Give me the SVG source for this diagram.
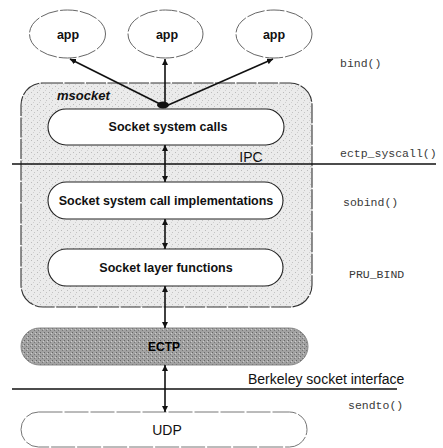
<svg xmlns="http://www.w3.org/2000/svg" width="443" height="448" viewBox="0 0 443 448">
<defs>
<style>
.bg{fill:#ffffff}
.app{fill:#ffffff;stroke:#555;stroke-width:0.9;stroke-dasharray:18 2}
.lbl{font-family:"Liberation Sans",Arial,sans-serif;fill:#111;text-anchor:middle}
.b{font-weight:bold;font-size:12.5px}
.r{font-size:14px}
.mono{font-family:"Liberation Mono","Courier New",monospace;font-size:11.5px;fill:#3a3a3a}
.pill{fill:#ffffff;stroke:#222;stroke-width:1.1}
.line{stroke:#111;stroke-width:1.5;fill:none}
.conn{stroke:#111;stroke-width:1.6;fill:none}
</style>
<pattern id="stip" width="6" height="6" patternUnits="userSpaceOnUse">
<rect width="6" height="6" fill="#ebebeb"/>
<rect x="1" y="2" width="1" height="1" fill="#bbb"/>
<rect x="4" y="4" width="1" height="1" fill="#c4c4c4"/>
<rect x="3" y="0" width="1" height="1" fill="#d0d0d0"/>
</pattern>
<pattern id="dark" width="4" height="4" patternUnits="userSpaceOnUse">
<rect width="4" height="4" fill="#a2a2a2"/>
<rect x="0" y="0" width="1" height="1" fill="#666"/>
<rect x="2" y="2" width="1" height="1" fill="#777"/>
<rect x="3" y="1" width="1" height="1" fill="#ccc"/>
</pattern>
<marker id="ah" viewBox="0 0 10 10" refX="10" refY="5" markerWidth="6" markerHeight="6" orient="auto-start-reverse" markerUnits="userSpaceOnUse">
<path d="M0,0 L10,5 L0,10 z" fill="#111"/>
</marker>
</defs>
<rect class="bg" x="0" y="0" width="443" height="448"/>

<g id="msocket">
<rect x="21" y="83" width="291" height="224" rx="22" ry="22" fill="url(#stip)" stroke="#333" stroke-width="1.1" stroke-dasharray="20 1.5"/>
<text x="57" y="100" style="font-family:'Liberation Sans',Arial,sans-serif;font-weight:bold;font-style:italic;font-size:13px;fill:#111">msocket</text>
</g>

<g id="app1">
<ellipse class="app" cx="67.5" cy="34" rx="38" ry="24"/>
<text class="lbl b" x="68" y="39">app</text>
</g>
<g id="app2">
<ellipse class="app" cx="165.5" cy="34" rx="37.5" ry="24"/>
<text class="lbl b" x="167" y="39">app</text>
</g>
<g id="app3">
<ellipse class="app" cx="274" cy="34" rx="38" ry="24"/>
<text class="lbl b" x="274" y="39">app</text>
</g>

<g id="syscalls">
<rect class="pill" x="48" y="109" width="236" height="36" rx="18" ry="18"/>
<text class="lbl b" x="168" y="131">Socket system calls</text>
</g>
<g id="impl">
<rect class="pill" x="48" y="182" width="235" height="37" rx="18.5" ry="18.5"/>
<text class="lbl b" x="166" y="205">Socket system call implementations</text>
</g>
<g id="layer">
<rect class="pill" x="48" y="249" width="235" height="37" rx="18.5" ry="18.5"/>
<text class="lbl b" x="166" y="272">Socket layer functions</text>
</g>
<g id="ectp">
<rect x="21" y="328" width="287" height="37" rx="18.5" ry="18.5" fill="url(#dark)" stroke="#888" stroke-width="1"/>
<text class="lbl" x="164" y="351" style="font-weight:bold;font-size:12px;fill:#000">ECTP</text>
</g>
<g id="udp">
<rect x="21" y="412" width="286" height="35" rx="17.5" ry="17.5" fill="#fff" stroke="#666" stroke-width="0.9" stroke-dasharray="24 2"/>
<text class="lbl r" x="167" y="435">UDP</text>
</g>

<g id="boundaries">
<line class="line" x1="12" y1="164" x2="436" y2="164"/>
<text class="lbl r" x="251" y="162">IPC</text>
<line class="line" x1="12" y1="389" x2="397" y2="389" style="stroke-width:1.3"/>
<text class="lbl r" x="248" y="384" style="text-anchor:start">Berkeley socket interface</text>
</g>

<g id="connectors">
<ellipse cx="163" cy="105" rx="6" ry="3.5" fill="#111"/>
<line class="conn" x1="164" y1="106" x2="70" y2="59" marker-end="url(#ah)"/>
<line class="conn" x1="165" y1="106" x2="165" y2="59" marker-end="url(#ah)"/>
<line class="conn" x1="166" y1="106" x2="273" y2="59" marker-end="url(#ah)"/>
<line class="conn" x1="165" y1="145" x2="165" y2="182" marker-start="url(#ah)" marker-end="url(#ah)"/>
<line class="conn" x1="165" y1="219" x2="165" y2="249" marker-start="url(#ah)" marker-end="url(#ah)"/>
<line class="conn" x1="165" y1="286" x2="165" y2="328" marker-start="url(#ah)" marker-end="url(#ah)"/>
<line class="conn" x1="165" y1="365" x2="165" y2="412" marker-start="url(#ah)" marker-end="url(#ah)"/>
</g>

<g id="calls">
<text class="mono" x="340" y="67">bind()</text>
<text class="mono" x="340" y="157">ectp_syscall()</text>
<text class="mono" x="343" y="206">sobind()</text>
<text class="mono" x="349" y="278">PRU_BIND</text>
<text class="mono" x="348" y="409">sendto()</text>
</g>
</svg>
